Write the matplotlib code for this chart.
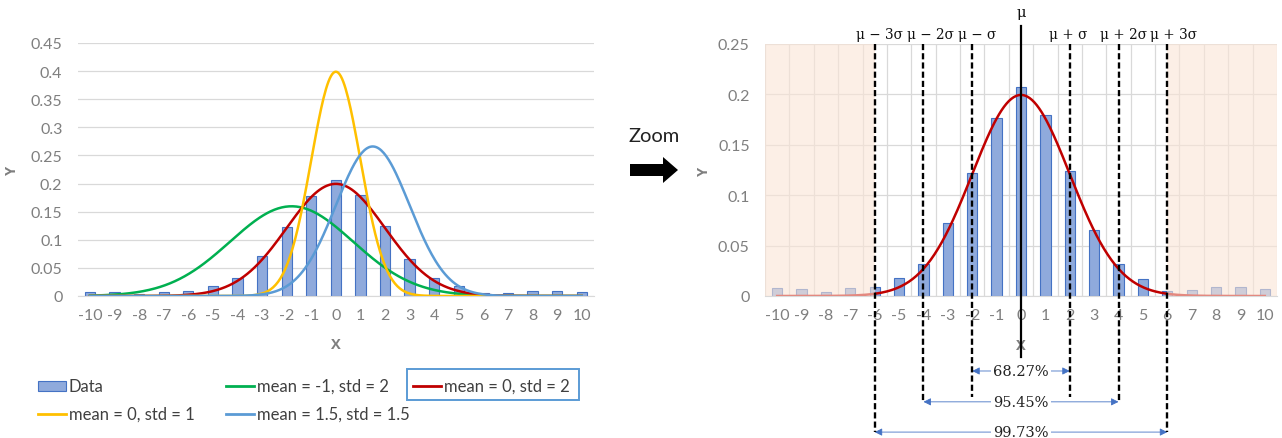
import numpy as np
import matplotlib.pyplot as plt
import matplotlib.patches as mpatches
from matplotlib.lines import Line2D
from matplotlib.ticker import FuncFormatter

plt.rcParams['font.family'] = ['Lato', 'DejaVu Sans']

# bar data
x_cat = list(range(-10, 11))
data_y = [0.0075, 0.007, 0.004, 0.008, 0.009, 0.0175, 0.032, 0.072, 0.122, 0.177, 0.207,
          0.18, 0.124, 0.065, 0.032, 0.017, 0.005, 0.006, 0.009, 0.009, 0.0065]

# normal curves (centre / spread)
curve_labels = ['mean = -1, std = 2', 'mean = 0, std = 2', 'mean = 0, std = 1', 'mean = 1.5, std = 1.5']
curve_mean = [-1.8, 0.0, 0.0, 1.5]
curve_std = [2.5, 2.0, 1.0, 1.5]
curve_colors = ['#00B050', '#C00000', '#FFC000', '#5B9BD5']

# zoom panel
mu, sigma = 0, 2
sigma_k = [1, 2, 3]
pct_labels = ['68.27%', '95.45%', '99.73%']

bar_face = '#8FAADC'
bar_edge = '#4472C4'
grid_c = '#D9D9D9'
txt_c = '#7F7F7F'

W, H = 1282, 439


def fx(p):
    return p / W


def fy(p):
    return 1 - p / H


def pdf(x, m, s):
    return np.exp(-0.5 * ((x - m) / s) ** 2) / (s * np.sqrt(2 * np.pi))


xs = np.linspace(-10, 10, 401)

fig = plt.figure(figsize=(W / 100, H / 100), dpi=100)
ax1 = fig.add_axes([fx(77.7), fy(297), (594 - 77.7) / W, 253 / H])
ax2 = fig.add_axes([fx(765), fy(297), 512 / W, 252 / H])


def style(ax, ymax, step):
    ax.set_xlim(-10.5, 10.5)
    ax.set_ylim(0, ymax)
    ax.set_yticks(np.arange(0, ymax + 1e-9, step))
    ax.yaxis.set_major_formatter(FuncFormatter(lambda v, p: '%g' % round(v, 3)))
    ax.set_xticks(x_cat)
    ax.set_xticklabels([str(v) for v in x_cat])
    for s in ['top', 'right', 'left']:
        ax.spines[s].set_visible(False)
    ax.spines['bottom'].set_color(grid_c)
    ax.tick_params(length=0, labelsize=11.5, labelcolor=txt_c)
    ax.tick_params(axis='y', pad=11)
    ax.tick_params(axis='x', pad=9)
    ax.set_axisbelow(True)
    ax.set_xlabel('X', fontsize=10.5, fontweight='bold', color=txt_c, family='Open Sans')
    ax.set_ylabel('Y', fontsize=10.5, fontweight='bold', color=txt_c, family='Open Sans')


# ---- left chart
style(ax1, 0.45, 0.05)
ax1.grid(axis='y', color=grid_c, lw=0.9)
ax1.bar(x_cat, data_y, width=0.42, color=bar_face, edgecolor=bar_edge, lw=0.8, zorder=2)
for m, s, c in zip(curve_mean, curve_std, curve_colors):
    ax1.plot(xs, pdf(xs, m, s), color=c, lw=1.8, zorder=3)
ax1.yaxis.set_label_coords(-0.114, 0.5)
ax1.xaxis.set_label_coords(0.5, -0.162)

# ---- right chart
style(ax2, 0.25, 0.05)
ax2.grid(axis='y', color=grid_c, lw=0.9)
for v in np.arange(-10.5, 10.6, 1):
    ax2.axvline(v, color=grid_c, lw=0.9, zorder=0.5)
ax2.bar(x_cat, data_y, width=0.42, color=bar_face, edgecolor=bar_edge, lw=0.8, zorder=2)
ax2.plot(xs, pdf(xs, curve_mean[1], curve_std[1]), color=curve_colors[1], lw=1.8, zorder=3)
# shaded tails
for x0, x1 in [(-10.5, mu - 3 * sigma), (mu + 3 * sigma, 10.5)]:
    ax2.add_patch(mpatches.Rectangle((x0, 0), x1 - x0, 0.25, facecolor='#FBE5D6',
                                     alpha=0.6, lw=0, zorder=4))
ax2.yaxis.set_label_coords(-0.105, 0.5)
ax2.xaxis.set_label_coords(0.5, -0.167)

# sigma lines
line_bottom = {1: -0.100, 2: -0.105, 3: -0.135}
label_shift = {-3: 0.2, -2: 0.3, -1: 0.2, 1: -0.05, 2: 0.2, 3: 0.25}
for k in sigma_k:
    for sgn in (-1, 1):
        xv = mu + sgn * k * sigma
        ax2.plot([xv, xv], [0.25, line_bottom[k]], color='black', lw=1.7,
                 ls=(0, (2.6, 1.3)), clip_on=False, zorder=5)
        lab = 'μ %s %sσ' % ('−' if sgn < 0 else '+', '' if k == 1 else str(k))
        ax2.text(xv + label_shift[sgn * k], 0.26, lab, ha='center', va='center',
                 fontsize=9.8, family='DejaVu Serif', color='#111111', clip_on=False)
ax2.plot([mu, mu], [0.268, -0.0605], color='black', lw=1.6, clip_on=False, zorder=6)
ax2.text(mu, 0.2817, 'μ', ha='center', va='center', fontsize=10.5,
         family='DejaVu Serif', color='#111111')

pct_y = [-0.0744, -0.105, -0.135]
for k, lab, yv in zip(sigma_k, pct_labels, pct_y):
    ax2.annotate('', xy=(mu - k * sigma, yv), xytext=(mu + k * sigma, yv),
                 arrowprops=dict(arrowstyle='<|-|>', color='#4472C4', lw=0.6,
                                 shrinkA=0, shrinkB=0, mutation_scale=11),
                 annotation_clip=False)
    ax2.text(mu, yv, lab, ha='center', va='center', fontsize=10.5, family='DejaVu Serif',
             color='#222222', clip_on=False,
             bbox=dict(facecolor='white', edgecolor='none', pad=1.5))

# ---- "Zoom" arrow
fig.text(fx(654), fy(137), 'Zoom', ha='center', va='center', fontsize=14.5, color='#222222')
fig.add_artist(mpatches.FancyArrow(fx(630), fy(171), fx(663 - 630), 0, width=12 / H,
                                   head_width=26 / H, head_length=fx(15),
                                   length_includes_head=False, transform=fig.transFigure,
                                   color='black', lw=0))

# ---- legend
leg_txt = '#404040'
fig.add_artist(mpatches.Rectangle((fx(38), fy(392)), fx(28), 10 / H, facecolor=bar_face,
                                  edgecolor=bar_edge, lw=0.8, transform=fig.transFigure))
fig.text(fx(69), fy(387), 'Data', va='center', fontsize=12, color=leg_txt)
leg_pos = [(226, 387), (413, 387), (38, 415), (226, 415)]
for (px, py), lab, c in zip(leg_pos, curve_labels, curve_colors):
    fig.add_artist(Line2D([fx(px), fx(px + 28)], [fy(py), fy(py)], color=c, lw=2,
                          transform=fig.transFigure))
    fig.text(fx(px + 31), fy(py), lab, va='center', fontsize=12, color=leg_txt)
fig.add_artist(mpatches.Rectangle((fx(407), fy(401)), fx(172), 31 / H, facecolor='none',
                                  edgecolor='#5B9BD5', lw=1.4, transform=fig.transFigure))

fig.savefig('out.png', dpi=100)
